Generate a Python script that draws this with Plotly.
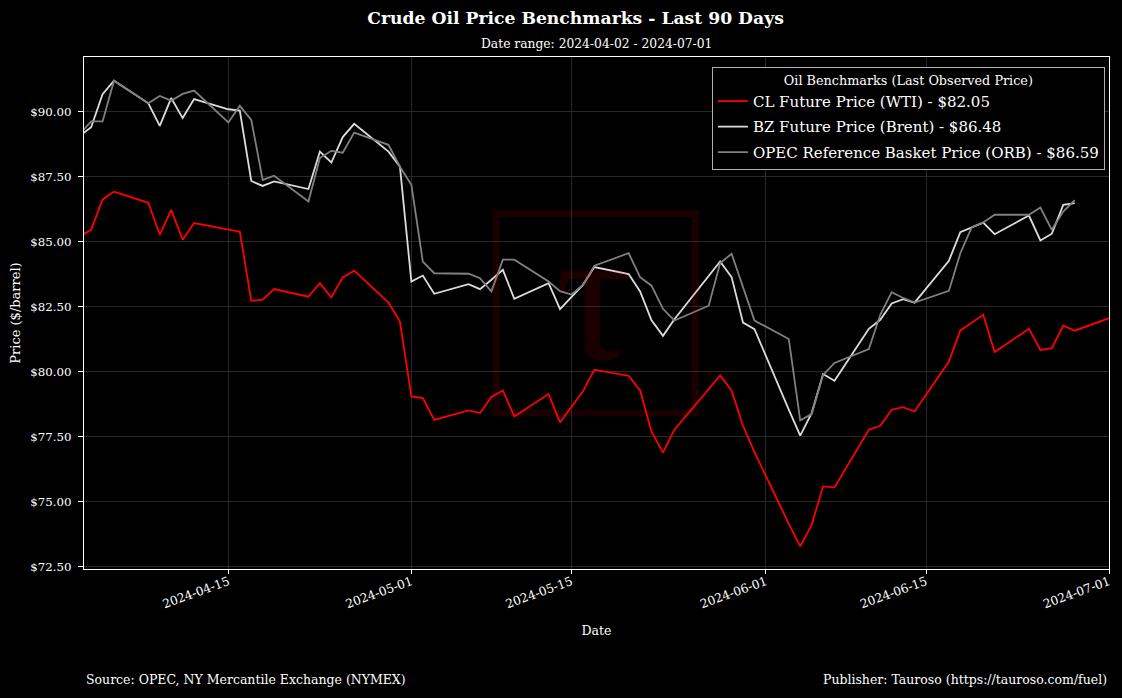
import plotly.graph_objects as go

# trading dates shown on the chart
dates = [
    "2024-04-02", "2024-04-03", "2024-04-04", "2024-04-05", "2024-04-08", "2024-04-09",
    "2024-04-10", "2024-04-11", "2024-04-12", "2024-04-15", "2024-04-16", "2024-04-17",
    "2024-04-18", "2024-04-19", "2024-04-22", "2024-04-23", "2024-04-24", "2024-04-25",
    "2024-04-26", "2024-04-29", "2024-04-30", "2024-05-01", "2024-05-02", "2024-05-03",
    "2024-05-06", "2024-05-07", "2024-05-08", "2024-05-09", "2024-05-10", "2024-05-13",
    "2024-05-14", "2024-05-15", "2024-05-16", "2024-05-17", "2024-05-20", "2024-05-21",
    "2024-05-22", "2024-05-23", "2024-05-24", "2024-05-27", "2024-05-28", "2024-05-29",
    "2024-05-30", "2024-05-31", "2024-06-03", "2024-06-04", "2024-06-05", "2024-06-06",
    "2024-06-07", "2024-06-10", "2024-06-11", "2024-06-12", "2024-06-13", "2024-06-14",
    "2024-06-17", "2024-06-18", "2024-06-19", "2024-06-20", "2024-06-21", "2024-06-24",
    "2024-06-25", "2024-06-26", "2024-06-27", "2024-06-28", "2024-07-01",
]

# CL future (WTI)
wti = [
    85.20, 85.45, 86.62, 86.92, 86.49, 85.26, 86.22, 85.07, 85.71, 85.45, 85.38, 82.72,
    82.76, 83.17, 82.88, 83.40, 82.85, 83.62, 83.88, 82.65, 81.92, 79.04, 78.98, 78.14,
    78.50, 78.40, 79.02, 79.27, 78.27, 79.13, 78.04, 78.64, 79.23, 80.07, 79.83, 79.27,
    77.68, 76.88, 77.76, None, 79.85, 79.27, 77.91, 76.90, 74.14, 73.27, 74.10, 75.58,
    75.54, 77.76, 77.91, 78.53, 78.63, 78.46, 80.38, 81.58, None, 82.18, 80.75, 81.64,
    80.83, 80.90, 81.76, 81.57, 82.05,
]

# BZ future (Brent)
brent = [
    89.07, 89.40, 90.67, 91.19, 90.32, 89.45, 90.52, 89.75, 90.48, 90.09, 90.04, 87.33,
    87.14, 87.31, 87.02, 88.46, 88.04, 89.02, 89.53, 88.46, 87.88, 83.46, 83.69, 82.99,
    83.36, 83.17, 83.53, 83.91, 82.80, 83.40, 82.40, 82.87, 83.33, 84.02, 83.75, 83.08,
    81.97, 81.37, 82.01, None, 84.23, 83.63, 81.88, 81.63, 78.53, 77.53, 78.40, 79.90,
    79.64, 81.64, 81.99, 82.62, 82.78, 82.65, 84.26, 85.36, None, 85.73, 85.28, 86.00,
    85.04, 85.30, 86.41, 86.48, None,
]

# OPEC reference basket
orb = [
    89.14, 89.62, 89.62, 91.19, 90.32, 90.60, 90.42, 90.68, 90.81, 89.58, 90.22, 89.68,
    87.37, 87.53, 86.54, 88.21, 88.49, 88.42, 89.19, 88.72, 87.88, 87.18, 84.23, 83.78,
    83.76, 83.59, 83.08, 84.30, 84.30, 83.46, 83.09, 82.96, 83.33, 84.07, 84.55, 83.63,
    83.30, 82.41, 81.96, 82.53, 84.17, 84.53, None, 81.96, 81.25, 78.12, 78.36, 79.87,
    80.33, 80.86, 82.18, 83.05, 82.83, 82.65, 83.10, 84.55, 85.55, 85.73, 86.03, 86.03,
    86.31, 85.45, 86.15, 86.59, None,
]

series = [
    ("CL Future Price (WTI) - $82.05", wti, "#ff0000"),
    ("BZ Future Price (Brent) - $86.48", brent, "#dcdcdc"),
    ("OPEC Reference Basket Price (ORB) - $86.59", orb, "#808080"),
]

y_ticks = [72.5, 75.0, 77.5, 80.0, 82.5, 85.0, 87.5, 90.0]
x_ticks = ["2024-04-15", "2024-05-01", "2024-05-15", "2024-06-01", "2024-06-15", "2024-07-01"]

FONT = "DejaVu Serif"

fig = go.Figure()
for i, (name, vals, color) in enumerate(series):
    fig.add_trace(go.Scatter(x=dates, y=vals, name=name, mode="lines", legendgroup=str(i),
                             connectgaps=True, line=dict(color=color, width=1.8)))

# watermark (square + tau), drawn over the lines with low alpha
fig.add_shape(type="rect", xref="paper", yref="paper",
              x0=0.4022, x1=0.5963, y0=0.3047, y1=0.6943,
              line=dict(color="rgba(255,0,0,0.10)", width=7), layer="above")
fig.add_annotation(text="τ", xref="paper", yref="paper", x=0.497, y=0.535,
                   showarrow=False, font=dict(family="Liberation Serif", size=190,
                                              color="rgba(255,0,0,0.11)"))

# subtitle and footer
fig.add_annotation(text="Date range: 2024-04-02 - 2024-07-01", xref="paper", yref="paper",
                   x=0.5, y=1.0254, xanchor="center", yanchor="middle", showarrow=False,
                   font=dict(family=FONT, size=12.3, color="white"))
fig.add_annotation(text="Source: OPEC, NY Mercantile Exchange (NYMEX)", xref="paper", yref="paper",
                   x=0, y=-0.215, xanchor="left", yanchor="middle", showarrow=False,
                   font=dict(family=FONT, size=12.5, color="white"))
fig.add_annotation(text="Publisher: Tauroso (https://tauroso.com/fuel)", xref="paper", yref="paper",
                   x=1, y=-0.215, xanchor="right", yanchor="middle", showarrow=False,
                   font=dict(family=FONT, size=12.5, color="white"))

fig.update_layout(
    width=1122, height=698,
    paper_bgcolor="black", plot_bgcolor="black",
    font=dict(family=FONT, color="white", size=12),
    margin=dict(l=84, r=10, t=57, b=129),
    title=dict(text="<b>Crude Oil Price Benchmarks - Last 90 Days</b>", x=0.513, xanchor="center",
               y=0.974, yanchor="middle", font=dict(family=FONT, size=17.2, color="white")),
    legend=dict(x=0.996, y=0.98, xanchor="right", yanchor="top",
                bgcolor="black", bordercolor="#b0b0b0", borderwidth=1,
                font=dict(family=FONT, size=15, color="white"),
                title=dict(text="Oil Benchmarks (Last Observed Price)", side="top center",
                           font=dict(family=FONT, size=12.8, color="white")),
                tracegroupgap=3),
    showlegend=True,
)

fig.update_xaxes(
    range=["2024-04-02 09:00", "2024-07-01"],
    tickvals=x_ticks, ticktext=x_ticks, tickangle=-20,
    showgrid=True, gridcolor="#282828", gridwidth=1,
    showline=True, linecolor="white", linewidth=1.2, mirror=True,
    ticks="outside", ticklen=4, tickcolor="white", ticklabelstandoff=-4,
    tickfont=dict(family=FONT, size=12.2, color="white"),
    title=dict(text="Date", font=dict(family=FONT, size=12.5, color="white"), standoff=16),
    zeroline=False,
)
fig.update_yaxes(
    range=[72.40, 92.10],
    tickvals=y_ticks, tickformat="$.2f",
    showgrid=True, gridcolor="#282828", gridwidth=1,
    showline=True, linecolor="white", linewidth=1.2, mirror=True,
    ticks="outside", ticklen=5, tickcolor="white", ticklabelstandoff=4,
    tickfont=dict(family=FONT, size=11.8, color="white"),
    title=dict(text="Price ($/barrel)", font=dict(family=FONT, size=13, color="white"), standoff=6),
    zeroline=False,
)

fig.write_html("out.html", config={"displayModeBar": False},
               post_script="document.body.style.margin='0px';"
                           "document.body.style.overflow='hidden';")
